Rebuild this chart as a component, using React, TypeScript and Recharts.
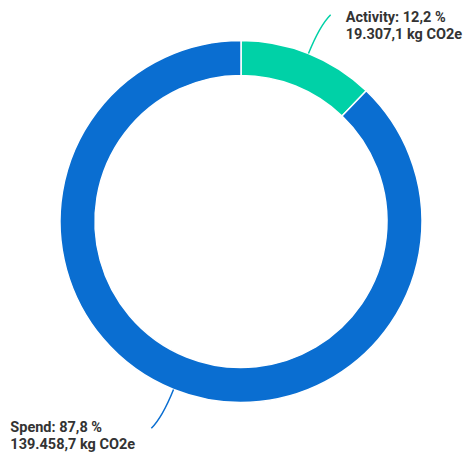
import React from 'react';
import { PieChart, Pie, Cell } from 'recharts';

const categories = ['Activity', 'Spend'];
const values = [19307.1, 139458.7];
const percentLabels = ['12,2 %', '87,8 %'];
const valueLabels = ['19.307,1 kg CO2e', '139.458,7 kg CO2e'];
const colors = ['#00d1a7', '#0a6ed1'];

const data = categories.map((name, i) => ({
  name,
  value: values[i],
  pct: percentLabels[i],
  amount: valueLabels[i],
}));

const RAD = Math.PI / 180;

const renderLabel = (props: any) => {
  const { cx, cy, midAngle, outerRadius, index, payload } = props;
  const color = colors[index];
  const s = Math.cos(-midAngle * RAD);
  const c = Math.sin(-midAngle * RAD);
  const sx = cx + outerRadius * s;
  const sy = cy + outerRadius * c;
  const mx = cx + (outerRadius + 30) * s;
  const my = cy + (outerRadius + 30) * c;
  const right = s >= 0;
  const down = c > 0;
  const ex = mx + (right ? 11 : -11);
  const ey = my + (down ? 11 : -11);
  const tx = right ? ex + 15 : ex - 141;
  const ty = down ? ey + 4 : ey + 7.5;
  const name = payload?.name ?? data[index].name;
  const pct = payload?.pct ?? data[index].pct;
  const amount = payload?.amount ?? data[index].amount;
  return (
    <g>
      <path
        d={`M${sx},${sy} Q${mx},${my} ${ex},${ey}`}
        stroke={color}
        strokeWidth={1.5}
        fill="none"
      />
      <text
        x={tx}
        y={ty}
        textAnchor="start"
        fill="#333333"
        fontFamily="Roboto, sans-serif"
        fontWeight={700}
        fontSize={14.5}
      >
        <tspan x={tx} y={ty}>{`${name}: ${pct}`}</tspan>
        <tspan x={tx} y={ty + 17}>{amount}</tspan>
      </text>
    </g>
  );
};

export default function App() {
  return (
    <div style={{ position: 'absolute', left: 0, top: 0, width: 464, height: 454, background: '#fff' }}>
      <PieChart width={464} height={454} margin={{ top: 0, right: 0, bottom: 0, left: 0 }}>
        <Pie
          data={data}
          dataKey="value"
          nameKey="name"
          cx={241}
          cy={221.5}
          innerRadius={146}
          outerRadius={181}
          startAngle={90}
          endAngle={-270}
          stroke="#ffffff"
          strokeWidth={1.5}
          label={renderLabel}
          labelLine={false}
          isAnimationActive={false}
        >
          {data.map((d, i) => (
            <Cell key={d.name} fill={colors[i]} />
          ))}
        </Pie>
      </PieChart>
    </div>
  );
}
